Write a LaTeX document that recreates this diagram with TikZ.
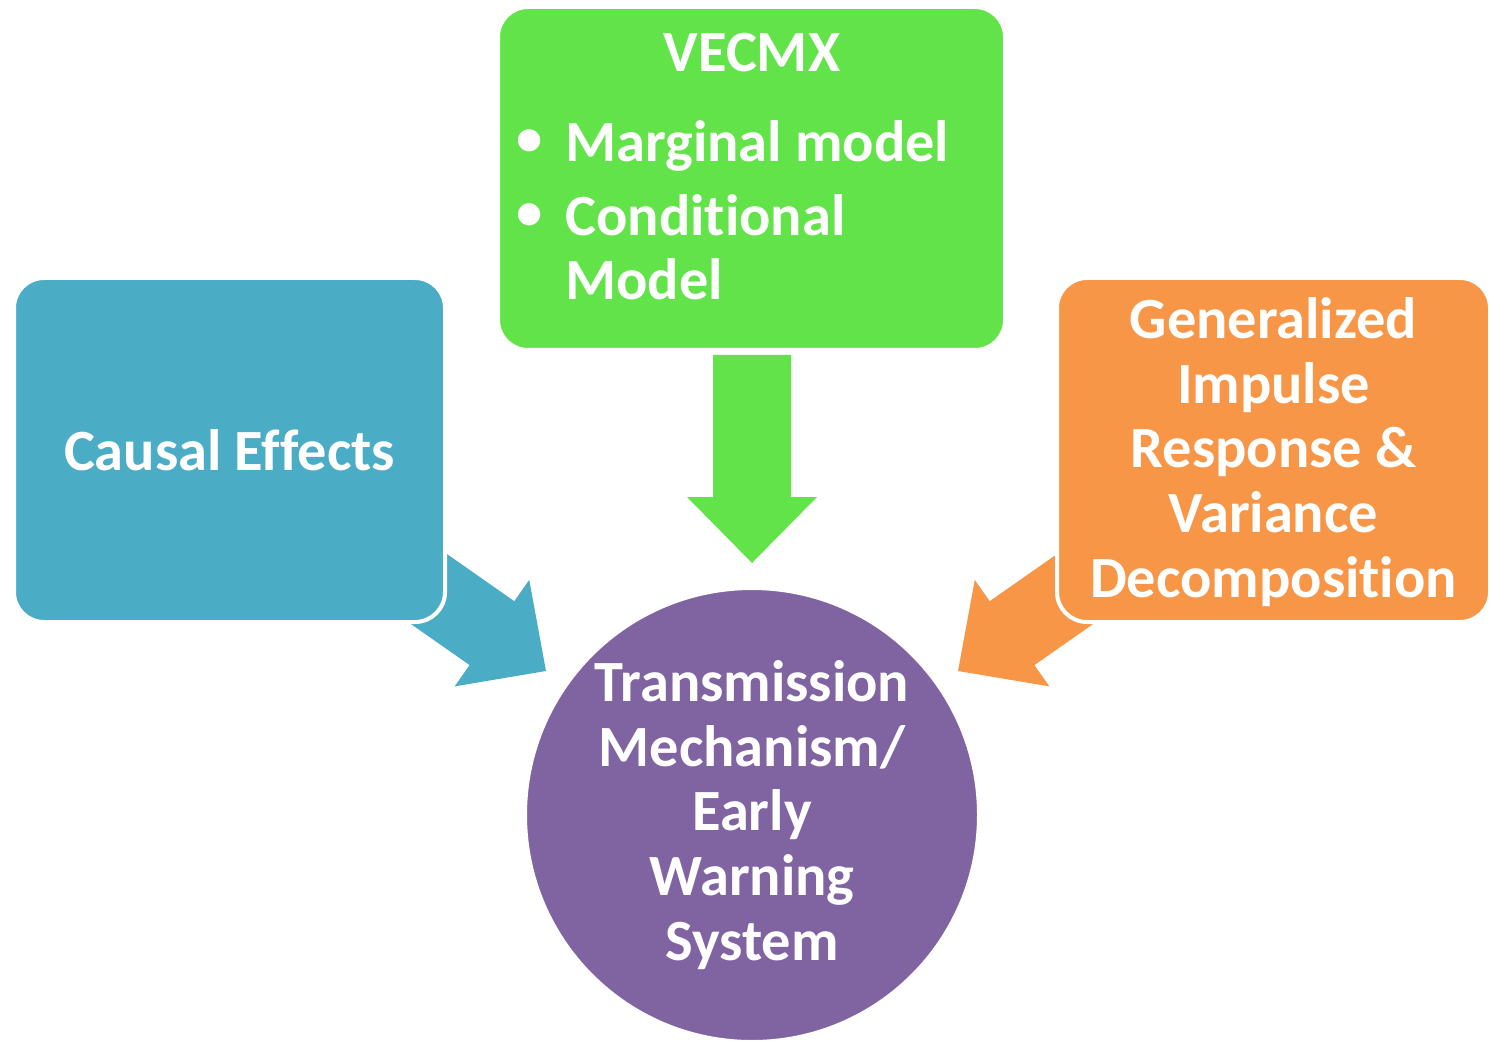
\documentclass[tikz,border=0pt]{standalone}
\usepackage{fontspec}
\setmainfont[Ligatures=NoCommon]{Carlito}
\definecolor{causalblue}{HTML}{4BACC6}
\definecolor{vecmxgreen}{HTML}{62E349}
\definecolor{irforange}{HTML}{F79646}
\definecolor{tmpurple}{HTML}{8064A2}
\tikzset{
  blockarrow/.pic={\path[pic actions] (0,0) -- (-66,65) -- (-66,39) -- (-208,39)
      -- (-208,-39) -- (-66,-39) -- (-66,-65) -- cycle;},
  bigtext/.style={text=white, align=center, inner sep=0pt,
      font=\bfseries\fontsize{29.2}{32.3}\selectfont},
  box/.style={bigtext, draw=white, line width=2pt, rounded corners=15pt,
      minimum height=172pt},
}
\begin{document}
\begin{tikzpicture}[x=0.5pt,y=-0.5pt]
\useasboundingbox (0,0) rectangle (1491,1042);
% arrows first, the boxes cover their tails
\pic[fill=causalblue, rotate=-35] at (546,671) {blockarrow};
\pic[fill=vecmxgreen, rotate=-90] at (752,563) {blockarrow};
\pic[fill=irforange, rotate=-145] at (958,671) {blockarrow};

\node[box, fill=causalblue, minimum width=215.5pt] (causal) at (229.5,450) {Causal Effects};
\node[box, fill=vecmxgreen, minimum width=253.5pt, minimum height=171.5pt] (vecmx) at (751.5,178.5) {};
\node[box, fill=irforange, minimum width=216.5pt] (girf) at (1273.5,450) {};
\node[bigtext] (girftext) at (1273.5,452)
  {Generalized\\Impulse\\Response \&\\Variance\\Decomposition};
\node[bigtext, circle, fill=tmpurple, draw=white, line width=2pt, minimum size=227pt] (tm) at (752,815)
  {Transmission\\Mechanism/\\Early\\Warning\\System};

% VECMX title and its two models
\node[bigtext, anchor=base] (title) at (752,72) {VECMX};
\node[bigtext, scale=0.9] (b1) at (530,143) {•};
\node[bigtext, scale=0.9] (b2) at (530,217) {•};
\node[bigtext, anchor=base west] (marg) at (565,162) {Marginal model};
\node[bigtext, anchor=base west] (cond) at (565,236) {Conditional};
\node[bigtext, anchor=base west] (cond2) at (565,300) {Model};
\end{tikzpicture}
\end{document}
